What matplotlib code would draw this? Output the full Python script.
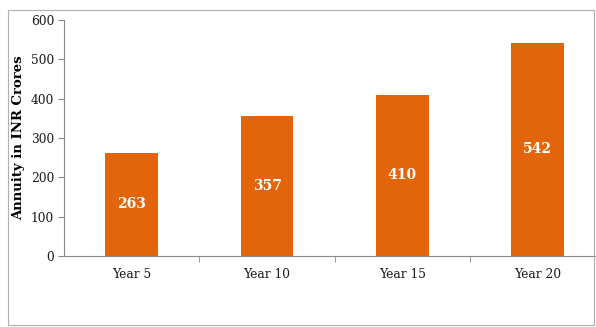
import matplotlib.pyplot as plt
from matplotlib.patches import Rectangle
from matplotlib.ticker import FixedLocator

# data
categories = ["Year 5", "Year 10", "Year 15", "Year 20"]
annuity = [263, 357, 410, 542]
y_ticks = [0, 100, 200, 300, 400, 500, 600]

plt.rcParams["font.family"] = ["DejaVu Serif"]

W, H = 596, 327
fig = plt.figure(figsize=(W / 100, H / 100), dpi=100)

# outer frame around the chart
fig.patches.append(Rectangle((8 / W, 2 / H), 586 / W, 315 / H, transform=fig.transFigure,
                             fill=False, edgecolor="#b0b0b0", lw=0.8))

ax = fig.add_axes([64 / W, (H - 256) / H, 532 / W, 236 / H])
x = range(len(categories))
bars = ax.bar(x, annuity, width=0.39, color="#E2650C")

for b, v in zip(bars, annuity):
    ax.text(b.get_x() + b.get_width() / 2, v / 2, str(v), ha="center", va="center",
            color="white", fontsize=10, fontweight="bold")

ax.set_xlim(-0.5, 3.43)
ax.set_ylim(0, 600)
ax.set_yticks(y_ticks)
ax.set_xticks(list(x))
ax.set_xticklabels(categories)
ax.xaxis.set_minor_locator(FixedLocator([0.5, 1.5, 2.5]))
ax.tick_params(axis="x", which="major", length=0, pad=9, labelsize=8.8, colors="#1a1a1a")
ax.tick_params(axis="x", which="minor", length=4, color="#888888")
ax.tick_params(axis="y", length=4, color="#888888", labelsize=8.8, labelcolor="#1a1a1a", pad=3)

for s in ["top", "right"]:
    ax.spines[s].set_visible(False)
ax.spines["left"].set_color("#888888")
ax.spines["bottom"].set_color("#888888")

ax.set_ylabel("Annuity in INR Crores", fontsize=9.5, fontweight="bold", labelpad=4)

fig.savefig("out.png", dpi=100)
